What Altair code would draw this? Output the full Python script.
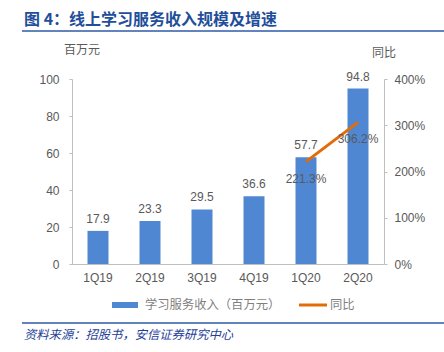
import altair as alt
import pandas as pd

quarters = ["1Q19", "2Q19", "3Q19", "4Q19", "1Q20", "2Q20"]
revenue = [17.9, 23.3, 29.5, 36.6, 57.7, 94.8]
yoy_quarters = ["1Q20", "2Q20"]
yoy = [2.213, 3.062]
yoy_labels = ["221.3%", "306.2%"]

title_text = "图 4：线上学习服务收入规模及增速"
source_text = "资料来源：招股书，安信证券研究中心"
left_unit = "百万元"
right_unit = "同比"
legend_bar = "学习服务收入（百万元）"
legend_line = "同比"

BLUE = "#5087D3"
ORANGE = "#E36C09"
GRAY = "#595959"
AXIS = "#BFBFBF"
TITLE_BLUE = "#1F4E9A"
CJK = "Noto Sans CJK SC"
LAT = "Liberation Sans"

bar_df = pd.DataFrame({"q": quarters, "v": revenue})
line_df = pd.DataFrame({"q": yoy_quarters, "r": yoy, "lab": yoy_labels})

xenc = alt.X("q:N", sort=quarters, title=None,
             scale=alt.Scale(paddingInner=0.0, paddingOuter=0.0),
             axis=alt.Axis(labelAngle=0, ticks=False, domainColor=AXIS,
                           labelColor=GRAY, labelFont=LAT, labelFontSize=12,
                           labelPadding=8))

yleft = alt.Y("v:Q", title=None, scale=alt.Scale(domain=[0, 100], nice=False),
              axis=alt.Axis(values=[0, 20, 40, 60, 80, 100], grid=False,
                            labelOverlap=False,
                            domainColor=AXIS, tickColor=AXIS, tickSize=3,
                            labelColor=GRAY, labelFont=LAT, labelFontSize=12,
                            labelPadding=10))
bbase = alt.Chart(bar_df).encode(x=xenc, y=yleft)
bars = bbase.mark_bar(color=BLUE, size=21)
bar_text = bbase.mark_text(baseline="bottom", dy=-5, font=LAT, fontSize=12,
                           color=GRAY).encode(text=alt.Text("v:Q", format=".1f"))
left = alt.layer(bars, bar_text)

yright = alt.Y("r:Q", title=None, scale=alt.Scale(domain=[0, 4], nice=False),
               axis=alt.Axis(orient="right", format=".0%", values=[0, 1, 2, 3, 4],
                             grid=False, labelOverlap=False,
                             domainColor=AXIS, tickColor=AXIS,
                             tickSize=3, labelColor=GRAY, labelFont=LAT,
                             labelFontSize=12, labelPadding=7))
lbase = alt.Chart(line_df).encode(x=xenc, y=yright)
line = lbase.mark_line(color=ORANGE, strokeWidth=3)
line_text = lbase.mark_text(baseline="middle", dy=17, font=LAT, fontSize=12,
                            color=GRAY).encode(text="lab:N")
right = alt.layer(line, line_text)

one = alt.Data(values=[{}])


def txt(s, x, y, **kw):
    return alt.Chart(one).mark_text(**kw).encode(
        x=alt.value(x), y=alt.value(y), text=alt.value(s))


def hline(x1, x2, y, color, w):
    return alt.Chart(one).mark_rule(color=color, strokeWidth=w).encode(
        x=alt.value(x1), x2=alt.value(x2), y=alt.value(y))


annots = [
    txt(title_text, -48, -59, align="left", baseline="middle", font=CJK,
        fontSize=16, fontWeight="bold", color=TITLE_BLUE),
    hline(-50, 372, -48, "#2F5AA8", 1.5),
    txt(left_unit, 10, -29, align="center", baseline="middle", font=CJK,
        fontSize=12, color=GRAY),
    txt(right_unit, 312, -26, align="center", baseline="middle", font=CJK,
        fontSize=12, color=GRAY),
    alt.Chart(one).mark_rect(color=BLUE).encode(
        x=alt.value(40), x2=alt.value(66), y=alt.value(223), y2=alt.value(229)),
    txt(legend_bar, 73, 226, align="left", baseline="middle", font=CJK,
        fontSize=12.3, color="#7F7F7F"),
    hline(227, 255, 226, ORANGE, 3),
    txt(legend_line, 258, 226, align="left", baseline="middle", font=CJK,
        fontSize=12.3, color="#7F7F7F"),
    hline(-50, 372, 244, "#2F5AA8", 1.5),
    txt(source_text, -48, 256, align="left", baseline="middle", font=CJK,
        fontSize=12.3, fontStyle="italic", color="#1F3F99"),
]

chart = alt.layer(left, right, *annots).resolve_scale(y="independent").properties(
    width=312, height=185,
    autosize=alt.AutoSizeParams(type="none"),
    padding={"left": 72, "top": 79, "right": 60, "bottom": 88},
).configure_view(stroke=None).configure_axis(labelOverlap=False)

chart.save("out.html", embed_options={"renderer": "svg", "actions": False})
